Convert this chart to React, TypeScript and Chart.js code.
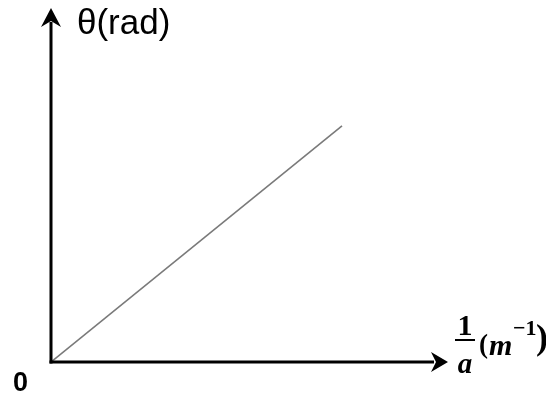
import React, { useEffect, useRef } from "react";
import { Chart, registerables } from "chart.js";

Chart.register(...registerables);

// Data
const xValues = [0, 7.33];
const thetaValues = [0, 6.67];
const xMax = 10;
const yMax = 10;
const yLabel = "θ(rad)";
const originLabel = "0";

const axesPlugin = {
  id: "arrowAxes",
  afterDraw(chart: any) {
    const ctx = chart.ctx as CanvasRenderingContext2D;
    const xs = chart.scales.x;
    const ys = chart.scales.y;
    const x0 = xs.getPixelForValue(0);
    const y0 = ys.getPixelForValue(0);
    const top = ys.getPixelForValue(yMax);
    const right = xs.getPixelForValue(xMax);
    ctx.save();
    ctx.strokeStyle = "#000";
    ctx.fillStyle = "#000";
    ctx.lineWidth = 3;
    ctx.lineCap = "butt";
    // y axis
    ctx.beginPath();
    ctx.moveTo(x0, y0 + 1.5);
    ctx.lineTo(x0, top + 14);
    ctx.stroke();
    ctx.beginPath();
    ctx.moveTo(x0, top);
    ctx.lineTo(x0 - 10, top + 19);
    ctx.lineTo(x0, top + 13);
    ctx.lineTo(x0 + 10, top + 19);
    ctx.closePath();
    ctx.fill();
    // x axis
    ctx.beginPath();
    ctx.moveTo(x0 - 1.5, y0);
    ctx.lineTo(right - 14, y0);
    ctx.stroke();
    ctx.beginPath();
    ctx.moveTo(right, y0);
    ctx.lineTo(right - 17, y0 - 10);
    ctx.lineTo(right - 12, y0);
    ctx.lineTo(right - 17, y0 + 10);
    ctx.closePath();
    ctx.fill();

    // labels
    ctx.textBaseline = "alphabetic";
    ctx.textAlign = "left";
    ctx.font = "35px 'Liberation Sans', Arial, sans-serif";
    ctx.fillText(yLabel, x0 + 26, top + 26);

    ctx.font = "bold 27px 'Liberation Sans', Arial, sans-serif";
    ctx.fillText(originLabel, x0 - 38, y0 + 29);

    // fraction 1/a (m^-1)
    const fx = right + 17;
    ctx.textAlign = "center";
    ctx.font = "bold 30px 'Liberation Serif', 'Times New Roman', serif";
    ctx.fillText("1", fx, y0 - 27);
    ctx.lineWidth = 2;
    ctx.beginPath();
    ctx.moveTo(fx - 10, y0 - 22);
    ctx.lineTo(fx + 10, y0 - 22);
    ctx.stroke();
    ctx.font = "italic bold 29px 'Liberation Serif', 'Times New Roman', serif";
    ctx.fillText("a", fx, y0 + 11);
    ctx.textAlign = "left";
    ctx.font = "bold 27px 'Liberation Serif', 'Times New Roman', serif";
    ctx.fillText("(", fx + 14, y0 - 9);
    ctx.font = "italic bold 30px 'Liberation Serif', 'Times New Roman', serif";
    ctx.fillText("m", fx + 24, y0 - 7);
    ctx.font = "bold 22px 'Liberation Serif', 'Times New Roman', serif";
    ctx.fillText("\u22121", fx + 48, y0 - 27);
    ctx.font = "bold 36px 'Liberation Serif', 'Times New Roman', serif";
    ctx.fillText(")", fx + 71, y0 - 13);
    ctx.restore();
  },
};

export default function App() {
  const ref = useRef<HTMLCanvasElement | null>(null);
  useEffect(() => {
    if (!ref.current) return;
    const chart = new Chart(ref.current, {
      type: "scatter",
      data: {
        datasets: [
          {
            data: xValues.map((x, i) => ({ x, y: thetaValues[i] })),
            showLine: true,
            borderColor: "#7a7a7a",
            borderWidth: 1.6,
            pointRadius: 0,
            fill: false,
          },
        ],
      },
      options: {
        animation: false,
        responsive: false,
        devicePixelRatio: 1,
        layout: { padding: { left: 51, right: 98, top: 8, bottom: 36 } },
        plugins: { legend: { display: false }, tooltip: { enabled: false } },
        scales: {
          x: { type: "linear", min: 0, max: xMax, display: false },
          y: { type: "linear", min: 0, max: yMax, display: false },
        },
      },
      plugins: [axesPlugin],
    });
    return () => chart.destroy();
  }, []);
  return (
    <div style={{ position: "fixed", left: 0, top: 0, width: 546, height: 398, background: "#fff" }}>
      <canvas ref={ref} width={546} height={398} style={{ display: "block", width: 546, height: 398 }} />
    </div>
  );
}
